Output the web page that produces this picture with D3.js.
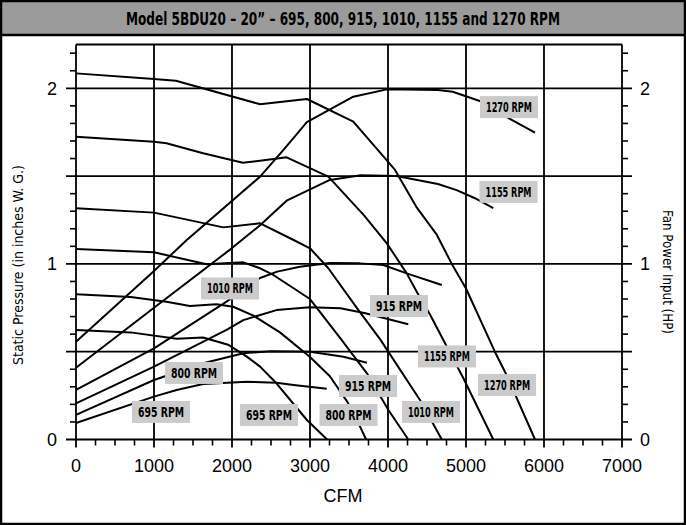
<!DOCTYPE html>
<html>
<head>
<meta charset="utf-8">
<title>Model 5BDU20 Fan Curves</title>
<script src="https://d3js.org/d3.v7.min.js"></script>
<style>
	body { margin: 0; background: white; }
	#plot { width: 686px; height: 525px; }
	text { font-family: "Liberation Sans", Arial, sans-serif; fill: black; }
	.cond { font-family: "Liberation Sans Narrow", "DejaVu Sans Condensed", sans-serif; }
</style>
</head>
<body>
<div id="plot"></div>
<script>
	// --- data (CFM, inches W.G. / HP) ---
	var rpms = [695, 800, 915, 1010, 1155, 1270]

	// static pressure curves
	var sp695 = [[0,0.624],[700,0.61],[1290,0.574],[1630,0.581],[1950,0.54],[2190,0.472],[2360,0.415],[2570,0.32],[2960,0.111],[3220,0]]
	var sp800 = [[0,0.827],[700,0.812],[1160,0.785],[1460,0.76],[1800,0.77],[2015,0.756],[2275,0.705],[2615,0.61],[3000,0.47],[3255,0.36],[3470,0.22],[3560,0.15],[3720,0]]
	var sp915 = [[0,1.085],[1000,1.066],[1675,0.998],[2145,1.009],[2360,0.975],[2530,0.937],[3000,0.8],[3390,0.576],[3730,0.377],[4005,0.168],[4260,0]]
	var sp1010 = [[0,1.317],[1000,1.292],[1890,1.208],[2360,1.231],[2790,1.136],[3000,1.089],[3235,0.975],[3600,0.75],[3900,0.57],[4410,0.225],[4690,0]]
	var sp1155 = [[0,1.724],[1000,1.696],[1160,1.687],[1630,1.63],[2140,1.576],[2360,1.588],[2700,1.607],[3235,1.497],[3690,1.278],[3985,1.117],[4240,0.946],[4370,0.84],[4540,0.71],[4965,0.35],[5350,0]]
	var sp1270 = [[0,2.085],[1000,2.053],[1280,2.043],[2360,1.909],[2960,1.939],[3555,1.81],[3985,1.59],[4090,1.535],[4370,1.32],[4620,1.17],[4818,1.0],[5000,0.86],[5370,0.5],[5520,0.367],[5885,0]]

	// fan power curves
	var hp695 = [[0,0.094],[1000,0.244],[1290,0.282],[1630,0.316],[2190,0.329],[2570,0.323],[2790,0.31],[3215,0.289]]
	var hp800 = [[0,0.14],[1000,0.339],[1630,0.434],[2145,0.491],[2500,0.503],[3000,0.5],[3430,0.471],[3730,0.437]]
	var hp915 = [[0,0.206],[1000,0.415],[1930,0.624],[2145,0.68],[2570,0.737],[3000,0.753],[3390,0.747],[3710,0.719],[4260,0.656]]
	var hp1010 = [[0,0.282],[1000,0.519],[1930,0.785],[2360,0.92],[2580,0.956],[2870,0.984],[3255,1.005],[3640,1.003],[3940,0.994],[4240,0.946],[4690,0.88]]
	var hp1155 = [[0,0.409],[1000,0.75],[2000,1.09],[2360,1.22],[2700,1.36],[3255,1.478],[3650,1.505],[4110,1.5],[4640,1.455],[4880,1.42],[5115,1.374],[5350,1.317]]
	var hp1270 = [[0,0.557],[1000,0.96],[1420,1.136],[2360,1.497],[2660,1.649],[2960,1.807],[3555,1.952],[3985,1.994],[4640,1.99],[4830,1.98],[5260,1.915],[5545,1.83],[5885,1.747]]

	// where the rpm tags sit (CFM, value), same order as rpms
	var spTagAt = [[2474,0.14],[3494,0.14],[3744,0.305],[4551,0.157],[4756,0.473],[5526,0.31]]
	var hpTagAt = [[1090,0.157],[1513,0.379],[4141,0.76],[1974,0.86],[5545,1.41],[5551,1.893]]

	var xTicks = [0,1000,2000,3000,4000,5000,6000,7000]
	var yTicks = [0,1,2]
	var title = 'Model 5BDU20 \u2013 20\u201D \u2013 695, 800, 915, 1010, 1155 and 1270 RPM'

	var spCurves = [sp695, sp800, sp915, sp1010, sp1155, sp1270]
	var hpCurves = [hp695, hp800, hp915, hp1010, hp1155, hp1270]

	// --- layout ---
	var W = 686, H = 525
	var margin = {top:44, left:76, right:64, bottom:85}

	var svg = d3.select('#plot').append('svg')
					.attr('width', W)
					.attr('height', H)

	var x = d3.scaleLinear().domain([0, 7000]).range([margin.left, W - margin.right])
	var y = d3.scaleLinear().domain([0, 2.25]).range([H - margin.bottom - 0.5, margin.top + 0.4])

	// frame + title bar
	svg.append('rect')
		.attr('x',1).attr('y',1).attr('width',W-2).attr('height',H-2)
		.attr('fill','white').attr('stroke','black').attr('stroke-width',2.5)
	svg.append('rect')
		.attr('x',1).attr('y',1).attr('width',W-2).attr('height',34)
		.attr('fill','#9b9b9b').attr('stroke','black').attr('stroke-width',2.5)
	svg.append('text')
		.attr('class','cond')
		.attr('x', W/2).attr('y', 24.5)
		.attr('text-anchor','middle')
		.attr('font-size', 17).attr('font-weight','bold')
		.attr('textLength', 434).attr('lengthAdjust','spacingAndGlyphs')
		.text(title)

	//GRID
	var minorX = d3.range(0, 7001, 250).filter(function(d){return d % 1000 !== 0})
	var minorY = d3.range(1, 23).map(function(d){return d/10}).filter(function(d){return Math.round(d*10) % 5 !== 0})
	var gridY = [0, 0.5, 1, 1.5, 2]

	svg.append('g').selectAll('line')
		.data(minorX).enter().append('line')
			.attr('x1', x).attr('x2', x)
			.attr('y1', y(0)).attr('y2', y(0) + 6)
			.attr('stroke','black').attr('stroke-width',1.6)
	svg.append('g').selectAll('line')
		.data(minorY).enter().append('line')
			.attr('x1', x(0) - 6).attr('x2', x(0))
			.attr('y1', y).attr('y2', y)
			.attr('stroke','black').attr('stroke-width',1.6)
	svg.append('g').selectAll('line')
		.data(minorY).enter().append('line')
			.attr('x1', x(7000)).attr('x2', x(7000) + 6)
			.attr('y1', y).attr('y2', y)
			.attr('stroke','black').attr('stroke-width',1.6)

	svg.append('g').selectAll('line')
		.data(xTicks).enter().append('line')
			.attr('x1', x).attr('x2', x)
			.attr('y1', y(2.25)).attr('y2', y(0) + 8)
			.attr('stroke','black').attr('stroke-width',1.8)
	svg.append('g').selectAll('line')
		.data(gridY).enter().append('line')
			.attr('x1', x(0) - 10).attr('x2', x(7000) + 10)
			.attr('y1', y).attr('y2', y)
			.attr('stroke','black').attr('stroke-width',1.8)
	svg.append('line')
		.attr('x1', x(0)).attr('x2', x(7000))
		.attr('y1', y(2.25)).attr('y2', y(2.25))
		.attr('stroke','black').attr('stroke-width',2)

	//TICK LABELS
	svg.append('g').selectAll('text')
		.data(xTicks).enter().append('text')
			.attr('x', x).attr('y', y(0) + 32)
			.attr('text-anchor','middle')
			.attr('font-size', 18)
			.text(function(d){return d})
	svg.append('g').selectAll('text')
		.data(yTicks).enter().append('text')
			.attr('x', x(0) - 24).attr('y', function(d){return y(d) + 6.5})
			.attr('text-anchor','middle')
			.attr('font-size', 18)
			.text(function(d){return d})
	svg.append('g').selectAll('text')
		.data(yTicks).enter().append('text')
			.attr('x', x(7000) + 23).attr('y', function(d){return y(d) + 6.5})
			.attr('text-anchor','middle')
			.attr('font-size', 18)
			.text(function(d){return d})

	//AXIS TITLES
	svg.append('text')
		.attr('x', W/2).attr('y', 502)
		.attr('text-anchor','middle')
		.attr('font-size', 18)
		.text('CFM')
	svg.append('text')
		.attr('class','cond')
		.attr('transform','translate(23,265) rotate(-90)')
		.attr('text-anchor','middle')
		.attr('font-size', 14)
		.attr('textLength', 200).attr('lengthAdjust','spacingAndGlyphs')
		.text('Static Pressure (in inches W. G.)')
	svg.append('text')
		.attr('class','cond')
		.attr('transform','translate(663,272) rotate(90)')
		.attr('text-anchor','middle')
		.attr('font-size', 14)
		.attr('textLength', 124).attr('lengthAdjust','spacingAndGlyphs')
		.text('Fan Power Input (HP)')

	//CURVES
	var line = d3.line()
					.x(function(d){return x(d[0])})
					.y(function(d){return y(d[1])})

	svg.append('g').selectAll('path')
		.data(spCurves.concat(hpCurves)).enter().append('path')
			.attr('d', line)
			.attr('fill','none')
			.attr('stroke','black')
			.attr('stroke-width',2)
			.attr('stroke-linejoin','round')

	//RPM TAGS
	var tags = []
	rpms.forEach(function(r, i){
		tags.push({rpm:r, at:spTagAt[i]})
		tags.push({rpm:r, at:hpTagAt[i]})
	})

	var tag = svg.append('g').selectAll('g')
		.data(tags).enter().append('g')
			.attr('transform', function(d){return 'translate(' + x(d.at[0]) + ',' + y(d.at[1]) + ')'})
	tag.append('rect')
		.attr('x',-29).attr('y',-11).attr('width',58).attr('height',22)
		.attr('fill','#cbcbcb')
	tag.append('text')
		.attr('class','cond')
		.attr('text-anchor','middle')
		.attr('y', 5)
		.attr('font-size', 14).attr('font-weight','bold')
		.attr('textLength', 46).attr('lengthAdjust','spacingAndGlyphs')
		.text(function(d){return d.rpm + ' RPM'})
</script>
</body>
</html>
